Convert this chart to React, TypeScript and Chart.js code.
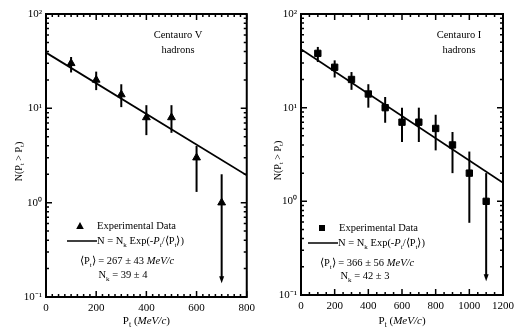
import React, { useEffect, useRef } from "react";
import { Chart, registerables } from "chart.js";

Chart.register(...registerables);

const FONT = "'Liberation Serif', 'Times New Roman', serif";

// ---- Centauro V ----
const ptV = [100, 200, 300, 400, 500, 600, 700];
const nV = [30, 20, 14, 8, 8, 3, 1];
const hiV = [35, 24.5, 18, 10.8, 10.8, 4.0, 2.0];
const loV = [24, 15.6, 10.3, 5.2, 5.5, 1.3, 0.14];
const arrowV = [false, false, false, false, false, false, true];
const fitXV = [0, 800];
const fitYV = [39, 1.95];
const xTicksV = [0, 200, 400, 600, 800];

// ---- Centauro I ----
const ptI = [100, 200, 300, 400, 500, 600, 700, 800, 900, 1000, 1100];
const nI = [38, 27, 20, 14, 10, 7, 7, 6, 4, 2, 1];
const hiI = [44.5, 32, 24, 17.8, 13, 10, 10, 8.4, 5.5, 3.4, 2.0];
const loI = [30.7, 21, 15.5, 10, 6.9, 4.3, 4.3, 3.5, 2.0, 0.59, 0.14];
const arrowI = [false, false, false, false, false, false, false, false, false, false, true];
const fitXI = [0, 1200];
const fitYI = [42, 1.58];
const xTicksI = [0, 200, 400, 600, 800, 1000, 1200];

const yTickVals = [0.1, 1, 10, 100];
const yTickLabels = ["10\u207B\u00B9", "10\u2070", "10\u00B9", "10\u00B2"];

type Seg = { t: string; sub?: boolean; it?: boolean };

function segFont(s: Seg, size: number) {
  return `${s.it ? "italic " : ""}${s.sub ? Math.round(size * 0.7) : size}px ${FONT}`;
}
function richWidth(ctx: CanvasRenderingContext2D, segs: Seg[], size: number) {
  let w = 0;
  for (const s of segs) {
    ctx.font = segFont(s, size);
    w += ctx.measureText(s.t).width;
  }
  return w;
}
function drawRich(
  ctx: CanvasRenderingContext2D,
  segs: Seg[],
  x: number,
  y: number,
  size: number,
  align: "left" | "center"
) {
  const w = richWidth(ctx, segs, size);
  let cx = align === "center" ? x - w / 2 : x;
  ctx.textAlign = "left";
  ctx.textBaseline = "middle";
  for (const s of segs) {
    ctx.font = segFont(s, size);
    ctx.fillText(s.t, cx, s.sub ? y + size * 0.35 : y);
    cx += ctx.measureText(s.t).width;
  }
}

type Cfg = {
  pts: number[];
  vals: number[];
  hi: number[];
  lo: number[];
  arrow: boolean[];
  fitX: number[];
  fitY: number[];
  xTicks: number[];
  xMax: number;
  minorStep: number;
  marker: "triangle" | "rect";
  padR: number;
  yW: number;
  xH: number;
  title: string;
  ptMean: string;
  nk: string;
  leg: { mx: number; my: number; tx: number; lx0: number; lx1: number; ly: number; c1: number; y1: number; c2: number; y2: number };
  ann: { cx: number; y1: number; y2: number };
  yTitleX: number;
};

const LF = 10.5;

function decorPlugin(cfg: Cfg) {
  return {
    id: "decor",
    beforeDatasetsDraw(chart: any) {
      const { ctx, scales } = chart;
      const x = scales.x;
      const y = scales.y;
      ctx.save();
      ctx.strokeStyle = "#000";
      ctx.fillStyle = "#000";
      ctx.lineWidth = 2;
      cfg.pts.forEach((p, i) => {
        const px = x.getPixelForValue(p);
        const yt = y.getPixelForValue(cfg.hi[i]);
        const yb = y.getPixelForValue(cfg.lo[i]);
        ctx.beginPath();
        ctx.moveTo(px, yt);
        ctx.lineTo(px, cfg.arrow[i] ? yb - 5 : yb);
        ctx.stroke();
        if (cfg.arrow[i]) {
          ctx.beginPath();
          ctx.moveTo(px - 2.5, yb - 7);
          ctx.lineTo(px + 2.5, yb - 7);
          ctx.lineTo(px, yb);
          ctx.closePath();
          ctx.fill();
        }
      });
      ctx.restore();
    },
    afterDatasetsDraw(chart: any) {
      const { ctx, chartArea: a, scales } = chart;
      const x = scales.x;
      const y = scales.y;
      ctx.save();
      ctx.strokeStyle = "#000";
      ctx.fillStyle = "#000";
      // frame
      ctx.lineWidth = 2;
      ctx.strokeRect(a.left, a.top, a.right - a.left, a.bottom - a.top);
      // y ticks
      ctx.lineWidth = 1.5;
      for (let d = -1; d <= 2; d++) {
        for (let m = 1; m <= 9; m++) {
          const v = m * Math.pow(10, d);
          if (v > 100.0001) break;
          const py = y.getPixelForValue(v);
          const len = m === 1 ? 6 : 3;
          ctx.beginPath();
          ctx.moveTo(a.left, py);
          ctx.lineTo(a.left + len, py);
          ctx.moveTo(a.right, py);
          ctx.lineTo(a.right - len, py);
          ctx.stroke();
        }
      }
      // x ticks
      for (let v = 0; v <= cfg.xMax + 0.001; v += cfg.minorStep) {
        const px = x.getPixelForValue(v);
        const len = v % 200 === 0 ? 6 : 3;
        ctx.beginPath();
        ctx.moveTo(px, a.bottom);
        ctx.lineTo(px, a.bottom - len);
        ctx.moveTo(px, a.top);
        ctx.lineTo(px, a.top + len);
        ctx.stroke();
      }
      // annotation
      drawRich(ctx, [{ t: cfg.title }], a.left + cfg.ann.cx, cfg.ann.y1, LF, "center");
      drawRich(ctx, [{ t: "hadrons" }], a.left + cfg.ann.cx, cfg.ann.y2, LF, "center");
      // legend
      const L = cfg.leg;
      const mx = a.left + L.mx;
      if (cfg.marker === "triangle") {
        ctx.beginPath();
        ctx.moveTo(mx, L.my - 4);
        ctx.lineTo(mx + 3.8, L.my + 3);
        ctx.lineTo(mx - 3.8, L.my + 3);
        ctx.closePath();
        ctx.fill();
      } else {
        ctx.fillRect(mx - 3, L.my - 3, 6, 6);
      }
      drawRich(ctx, [{ t: "Experimental Data" }], a.left + L.tx, L.my, LF, "left");
      ctx.lineWidth = 1.5;
      ctx.beginPath();
      ctx.moveTo(a.left + L.lx0, L.ly);
      ctx.lineTo(a.left + L.lx1, L.ly);
      ctx.stroke();
      drawRich(
        ctx,
        [
          { t: "N = N" },
          { t: "k", sub: true },
          { t: " Exp(-" },
          { t: "P", it: true },
          { t: "t", sub: true, it: true },
          { t: "/\u27E8P" },
          { t: "t", sub: true },
          { t: "\u27E9)" },
        ],
        a.left + L.lx1,
        L.ly,
        LF,
        "left"
      );
      drawRich(
        ctx,
        [
          { t: "\u27E8P" },
          { t: "t", sub: true },
          { t: "\u27E9 = " + cfg.ptMean + " " },
          { t: "MeV/c", it: true },
        ],
        a.left + L.c1,
        L.y1,
        LF,
        "center"
      );
      drawRich(ctx, [{ t: "N" }, { t: "k", sub: true }, { t: " = " + cfg.nk }], a.left + L.c2, L.y2, LF, "center");
      // x title
      drawRich(
        ctx,
        [{ t: "P" }, { t: "t", sub: true }, { t: " (" }, { t: "MeV/c", it: true }, { t: ")" }],
        (a.left + a.right) / 2,
        321,
        11,
        "center"
      );
      // y title
      ctx.save();
      ctx.translate(cfg.yTitleX, (a.top + a.bottom) / 2 + 6);
      ctx.rotate(-Math.PI / 2);
      drawRich(
        ctx,
        [{ t: "N(P" }, { t: "t", sub: true }, { t: " > P" }, { t: "t", sub: true }, { t: ")" }],
        0,
        0,
        10,
        "center"
      );
      ctx.restore();
      ctx.restore();
    },
  };
}

function Panel({ cfg, left }: { cfg: Cfg; left: number }) {
  const ref = useRef<HTMLCanvasElement>(null);
  useEffect(() => {
    if (!ref.current) return;
    const chart = new Chart(ref.current, {
      type: "scatter",
      data: {
        datasets: [
          {
            data: cfg.fitX.map((v, i) => ({ x: v, y: cfg.fitY[i] })),
            showLine: true,
            borderColor: "#000",
            borderWidth: 1.8,
            pointRadius: 0,
          },
          {
            data: cfg.pts.map((v, i) => ({ x: v, y: cfg.vals[i] })),
            pointStyle: cfg.marker,
            pointRadius: 4.5,
            backgroundColor: "#000",
            borderColor: "#000",
            borderWidth: 1,
          },
        ],
      },
      options: {
        responsive: false,
        animation: false,
        layout: { padding: { left: 0, right: cfg.padR, top: 14, bottom: 0 } },
        plugins: { legend: { display: false }, tooltip: { enabled: false } },
        scales: {
          x: {
            type: "linear",
            min: 0,
            max: cfg.xMax,
            grid: { display: false, drawTicks: false },
            border: { display: false },
            afterBuildTicks: (s: any) => {
              s.ticks = cfg.xTicks.map((v) => ({ value: v }));
            },
            afterFit: (s: any) => {
              s.height = cfg.xH;
            },
            ticks: {
              font: { family: FONT, size: 11 },
              color: "#000",
              padding: 5,
              maxRotation: 0,
              autoSkip: false,
              callback: (v: any) => String(v),
            },
          },
          y: {
            type: "logarithmic",
            min: 0.1,
            max: 100,
            grid: { display: false, drawTicks: false },
            border: { display: false },
            afterBuildTicks: (s: any) => {
              s.ticks = yTickVals.map((v) => ({ value: v }));
            },
            afterFit: (s: any) => {
              s.width = cfg.yW;
            },
            ticks: {
              font: { family: FONT, size: 11 },
              color: "#000",
              padding: 4,
              autoSkip: false,
              callback: (_v: any, i: number) => yTickLabels[i],
            },
          },
        },
      } as any,
      plugins: [decorPlugin(cfg) as any],
    });
    return () => chart.destroy();
  }, [cfg]);
  return (
    <div style={{ position: "absolute", left, top: 0, width: 260, height: 329 }}>
      <canvas ref={ref} width={260} height={329} style={{ display: "block" }} />
    </div>
  );
}

const cfgV: Cfg = {
  pts: ptV,
  vals: nV,
  hi: hiV,
  lo: loV,
  arrow: arrowV,
  fitX: fitXV,
  fitY: fitYV,
  xTicks: xTicksV,
  xMax: 800,
  minorStep: 25,
  marker: "triangle",
  padR: 12,
  yW: 46,
  xH: 32,
  title: "Centauro V",
  ptMean: "267 \u00B1 43",
  nk: "39 \u00B1 4",
  leg: { mx: 34, my: 226, tx: 51, lx0: 21, lx1: 51, ly: 241, c1: 81, y1: 261, c2: 77, y2: 275 },
  ann: { cx: 132, y1: 35, y2: 50 },
  yTitleX: 19,
};

const cfgI: Cfg = {
  pts: ptI,
  vals: nI,
  hi: hiI,
  lo: loI,
  arrow: arrowI,
  fitX: fitXI,
  fitY: fitYI,
  xTicks: xTicksI,
  xMax: 1200,
  minorStep: 50,
  marker: "rect",
  padR: 13,
  yW: 42,
  xH: 34,
  title: "Centauro I",
  ptMean: "366 \u00B1 56",
  nk: "42 \u00B1 3",
  leg: { mx: 21, my: 228, tx: 38, lx0: 7, lx1: 37, ly: 243, c1: 66, y1: 263, c2: 64, y2: 276 },
  ann: { cx: 158, y1: 35, y2: 50 },
  yTitleX: 19,
};

export default function App() {
  return (
    <div style={{ position: "absolute", left: 0, top: 0, width: 519, height: 329, background: "#fff" }}>
      <Panel cfg={cfgV} left={0} />
      <Panel cfg={cfgI} left={259} />
    </div>
  );
}
